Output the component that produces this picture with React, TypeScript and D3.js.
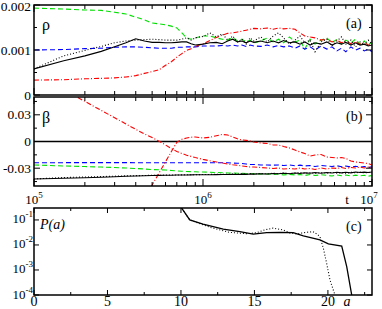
import * as d3 from "d3";

// time grid shared by panels (a) and (b)
const tValues = [
  1e5, 1.5e5, 2e5, 2.5e5, 3e5, 3.5e5, 4e5, 4.5e5, 5e5, 5.5e5,
  6e5, 6.5e5, 7e5, 7.5e5, 8e5, 8.5e5, 9e5, 9.5e5, 1e6, 1.1e6,
  1.2e6, 1.3e6, 1.4e6, 1.5e6, 1.6e6, 1.7e6, 1.8e6, 1.9e6, 2e6, 2.2e6,
  2.4e6, 2.6e6, 2.8e6, 3e6, 3.25e6, 3.5e6, 3.75e6, 4e6, 4.3e6, 4.6e6,
  5e6, 5.4e6, 5.8e6, 6.2e6, 6.6e6, 7e6, 7.5e6, 8e6, 8.5e6, 9e6, 9.5e6, 1e7,
];

// panel (a): rho
const rhoGreen = [
  0.00193, 0.00191, 0.00189, 0.00188, 0.00184, 0.0018, 0.00173, 0.00167, 0.0016, 0.00158,
  0.00156, 0.00153, 0.00149, 0.00138, 0.00127, 0.00124, 0.00127, 0.00129, 0.00131, 0.00131,
  0.00127, 0.00124, 0.00122, 0.00127, 0.0012, 0.00124, 0.00118, 0.00122, 0.00116, 0.0012,
  0.00127, 0.00118, 0.00124, 0.00116, 0.00129, 0.00118, 0.00122, 0.00102, 0.00124, 0.00113,
  0.00122, 0.00127, 0.00116, 0.00124, 0.00113, 0.00122, 0.00116, 0.00124, 0.00113, 0.0012, 0.00111, 0.00118,
];
const rhoBlue = [
  0.001, 0.00101, 0.00103, 0.00104, 0.00106, 0.00107, 0.00107, 0.00106, 0.00105, 0.00104,
  0.00104, 0.00104, 0.00106, 0.00106, 0.00107, 0.00107, 0.00107, 0.00108, 0.00109, 0.00109,
  0.00109, 0.0011, 0.00109, 0.00111, 0.00109, 0.00111, 0.00108, 0.00111, 0.00109, 0.00108,
  0.00111, 0.00107, 0.0011, 0.00107, 0.00109, 0.00104, 0.00109, 0.00102, 0.00107, 0.001,
  0.00109, 0.00102, 0.00107, 0.00098, 0.00104, 0.00096, 0.00107, 0.001, 0.00104, 0.00098, 0.00102, 0.00096,
];
const rhoRed = [
  0.00033, 0.00034, 0.00036, 0.00037, 0.00038, 0.0004, 0.00043, 0.00048, 0.00052, 0.00056,
  0.00066, 0.00074, 0.00084, 0.00092, 0.00099, 0.00103, 0.00108, 0.00111, 0.00114, 0.00121,
  0.00128, 0.00133, 0.00137, 0.00138, 0.0014, 0.00142, 0.00144, 0.00146, 0.00148, 0.00147,
  0.00149, 0.00146, 0.00149, 0.00147, 0.00148, 0.00146, 0.00138, 0.00131, 0.00129, 0.00127,
  0.00122, 0.00124, 0.00118, 0.00122, 0.00116, 0.0012, 0.00114, 0.00118, 0.00113, 0.00117, 0.00111, 0.00113,
];
const rhoDotted = [
  0.00058, 0.00087, 0.00099, 0.00108, 0.00116, 0.0012, 0.00122, 0.00123, 0.00124, 0.00123,
  0.00122, 0.00122, 0.00122, 0.00124, 0.00127, 0.00122, 0.00127, 0.00129, 0.0013, 0.00138,
  0.00129, 0.00136, 0.00122, 0.00131, 0.00118, 0.00124, 0.00113, 0.00127, 0.0012, 0.00129,
  0.00118, 0.00131, 0.00138, 0.00127, 0.00113, 0.00122, 0.00131, 0.00116, 0.00122, 0.00096,
  0.00118, 0.00124, 0.00109, 0.0012, 0.00129, 0.00113, 0.00122, 0.00107, 0.00118, 0.00111, 0.00122, 0.00113,
];
const rhoSolid = [
  0.00058, 0.00076, 0.00087, 0.00097, 0.00107, 0.00116, 0.00125, 0.0012, 0.00117, 0.00117,
  0.00116, 0.00116, 0.00117, 0.00118, 0.00118, 0.00114, 0.00111, 0.00112, 0.00113, 0.00116,
  0.00117, 0.00114, 0.0012, 0.00124, 0.00118, 0.0012, 0.00116, 0.0012, 0.00117, 0.0012,
  0.00116, 0.0012, 0.00116, 0.00121, 0.00116, 0.00118, 0.00113, 0.00118, 0.00111, 0.00116,
  0.00113, 0.00118, 0.00111, 0.00116, 0.00113, 0.00117, 0.00111, 0.00116, 0.00111, 0.00113, 0.00109, 0.00111,
];

// panel (b): beta
const betaRedFall = [
  0.0765, 0.0581, 0.0451, 0.0349, 0.0267, 0.0197, 0.0137, 0.0084, 0.0045, 0.0003,
  -0.0039, -0.0079, -0.0112, -0.0135, -0.0154, -0.0167, -0.018, -0.0191, -0.0201, -0.0217,
  -0.023, -0.0242, -0.0253, -0.0262, -0.0267, -0.0275, -0.0281, -0.0287, -0.0287, -0.0292,
  -0.0298, -0.0303, -0.0298, -0.0309, -0.0303, -0.0309, -0.0298, -0.0309, -0.0303, -0.0315,
  -0.0298, -0.0309, -0.0298, -0.0303, -0.0292, -0.0303, -0.0292, -0.0298, -0.0287, -0.0298, -0.0287, -0.0292,
];
const betaRedRise = [
  null, null, null, null, null, null, -0.08, -0.0635, -0.0489, -0.0353,
  -0.0228, -0.0113, -0.0009, 0.0025, 0.0039, 0.0048, 0.0051, 0.0045, 0.0039, 0.0047,
  0.0065, 0.0079, 0.0073, 0.0051, 0.003, 0.0017, 0.0013, 0.0006, -0.0006, -0.0017,
  -0.0022, -0.0039, -0.0039, -0.0056, -0.0073, -0.0096, -0.0118, -0.0135, -0.0163, -0.0152,
  -0.0146, -0.0174, -0.018, -0.0185, -0.018, -0.0191, -0.0219, -0.023, -0.0236, -0.0242, -0.0247, -0.0264,
];
const betaBlue = [
  -0.0238, -0.0238, -0.0237, -0.0237, -0.0237, -0.0237, -0.0238, -0.0238, -0.0238, -0.0238,
  -0.0238, -0.0238, -0.0238, -0.0238, -0.0238, -0.0238, -0.0238, -0.0238, -0.0238, -0.0238,
  -0.0238, -0.0238, -0.0239, -0.0242, -0.0244, -0.0247, -0.0253, -0.0258, -0.0258, -0.0264,
  -0.0264, -0.0266, -0.0264, -0.027, -0.0264, -0.0273, -0.0266, -0.0275, -0.027, -0.0281,
  -0.027, -0.0275, -0.0281, -0.0273, -0.0284, -0.0275, -0.0287, -0.0278, -0.0289, -0.0281, -0.0292, -0.0284,
];
const betaGreen = [
  -0.0264, -0.0275, -0.0281, -0.0287, -0.0292, -0.0298, -0.0303, -0.0309, -0.0315, -0.0318,
  -0.032, -0.0326, -0.0331, -0.0334, -0.0337, -0.0339, -0.034, -0.0343, -0.0343, -0.0346,
  -0.0348, -0.0351, -0.0354, -0.0354, -0.0356, -0.0357, -0.036, -0.036, -0.0363, -0.0365,
  -0.0365, -0.0371, -0.0365, -0.0376, -0.0369, -0.0376, -0.0371, -0.0382, -0.0371, -0.0382,
  -0.0374, -0.038, -0.0388, -0.0376, -0.0385, -0.0376, -0.0388, -0.0378, -0.0385, -0.038, -0.039, -0.0382,
];
const betaSolid = [
  -0.0421, -0.0413, -0.0407, -0.0401, -0.0396, -0.0391, -0.0388, -0.0385, -0.0382, -0.0381,
  -0.038, -0.0379, -0.0376, -0.0376, -0.0376, -0.0375, -0.0374, -0.0374, -0.0374, -0.0373,
  -0.0372, -0.0371, -0.0371, -0.0369, -0.037, -0.0367, -0.0369, -0.0365, -0.0367, -0.0363,
  -0.0365, -0.036, -0.0363, -0.0357, -0.0362, -0.0354, -0.036, -0.0352, -0.0357, -0.0348,
  -0.0356, -0.0349, -0.0354, -0.0346, -0.0353, -0.0345, -0.0352, -0.0343, -0.0349, -0.0344, -0.0348, -0.0343,
];
const betaDotted = [
  -0.0421, -0.0405, -0.0399, -0.0394, -0.039, -0.0386, -0.0384, -0.0382, -0.038, -0.0379,
  -0.0378, -0.0377, -0.0376, -0.0375, -0.0374, -0.0374, -0.0373, -0.0372, -0.0371, -0.037,
  -0.0369, -0.0367, -0.037, -0.0365, -0.0368, -0.0363, -0.0367, -0.0361, -0.0366, -0.0358,
  -0.0364, -0.0356, -0.0362, -0.0352, -0.036, -0.0355, -0.0349, -0.0358, -0.0351, -0.036,
  -0.035, -0.0356, -0.0347, -0.0355, -0.0349, -0.0357, -0.0346, -0.0352, -0.0344, -0.0353, -0.0347, -0.035,
];

// panel (c): P(a)
const aSolid = [9.95, 10.6, 11.5, 12.88, 14.0, 14.92, 15.83, 16.74, 17.64, 18.33, 19.46, 20.03, 20.94, 21.28, 21.62];
const pSolid = [0.36, 0.1, 0.068, 0.043, 0.034, 0.027, 0.031, 0.032, 0.031, 0.023, 0.016, 0.011, 0.0091, 0.00135, 0.0001];
const aDotted = [9.95, 10.6, 12.0, 13.3, 14.5, 15.15, 15.7, 16.27, 16.95, 17.4, 17.87, 18.5, 18.99, 19.3, 19.46, 19.69, 19.91, 20.14, 20.48];
const pDotted = [0.36, 0.1, 0.05, 0.032, 0.028, 0.031, 0.04, 0.047, 0.04, 0.03, 0.0275, 0.032, 0.034, 0.026, 0.021, 0.0074, 0.0019, 0.0004, 0.0001];

const rhoTicks = [0, 0.001, 0.002];
const rhoTickLabels = ["0", "0.001", "0.002"];
const betaTicks = [-0.03, 0, 0.03];
const betaTickLabels = ["-0.03", "0", "0.03"];
const aTicks = [0, 5, 10, 15, 20];
const pTicks = [1e-1, 1e-2, 1e-3, 1e-4];
const pTickExps = ["-1", "-2", "-3", "-4"];
const tTicks = [1e5, 1e6, 1e7];
const tTickExps = ["5", "6", "7"];

const FONT = "'Liberation Serif', 'DejaVu Serif', serif";
const L = 34, R = 372;

export default function App() {
  const xT = d3.scaleLog().domain([1e5, 1e7]).range([L, R]);
  const yRho = d3.scaleLinear().domain([0, 0.002]).range([95, 5]);
  const yBeta = d3.scaleLinear().domain([-0.05, 0.05]).range([186, 97]);
  const xA = d3.scaleLinear().domain([0, 23]).range([L, R]);
  const yP = d3.scaleLog().domain([1e-4, 0.3]).range([295, 208]);

  const lineT = (ys: (number | null)[], y: d3.ScaleLinear<number, number>) =>
    d3
      .line<number>()
      .defined((_, i) => ys[i] !== null)
      .x((t) => xT(t))
      .y((_, i) => y(ys[i] as number))(tValues) || "";

  const lineA = (as: number[], ps: number[]) =>
    d3
      .line<number>()
      .x((a) => xA(a))
      .y((_, i) => yP(ps[i]))(as) || "";

  const styles = {
    green: { stroke: "#00e000", dash: "5,3" },
    blue: { stroke: "#0000ff", dash: "5,3" },
    red: { stroke: "#ff0000", dash: "5,2,1,2" },
    dotted: { stroke: "#000", dash: "1,2" },
    solid: { stroke: "#000", dash: "" },
  };

  const seriesA = [
    { ys: rhoGreen, s: styles.green },
    { ys: rhoBlue, s: styles.blue },
    { ys: rhoRed, s: styles.red },
    { ys: rhoDotted, s: styles.dotted },
    { ys: rhoSolid, s: styles.solid },
  ];
  const seriesB = [
    { ys: betaGreen, s: styles.green },
    { ys: betaBlue, s: styles.blue },
    { ys: betaRedFall, s: styles.red },
    { ys: betaRedRise, s: styles.red },
    { ys: betaDotted, s: styles.dotted },
    { ys: betaSolid, s: styles.solid },
  ];

  const logTicks = xT.ticks();

  const tTickMarks = (top: number, bottom: number) =>
    logTicks.map((t, i) => {
      const major = Math.abs(Math.log10(t) - Math.round(Math.log10(t))) < 1e-6;
      const len = major ? 7 : 4;
      const x = xT(t);
      return (
        <g key={i}>
          <line x1={x} x2={x} y1={top} y2={top + len} stroke="#000" strokeWidth={1} />
          <line x1={x} x2={x} y1={bottom} y2={bottom - len} stroke="#000" strokeWidth={1} />
        </g>
      );
    });

  const yTickMarks = (vals: number[], scale: (v: number) => number, len: number) =>
    vals.map((v, i) => (
      <g key={i}>
        <line x1={L} x2={L + len} y1={scale(v)} y2={scale(v)} stroke="#000" />
        <line x1={R} x2={R - len} y1={scale(v)} y2={scale(v)} stroke="#000" />
      </g>
    ));

  const aTickVals = d3.range(0, 23, 2.5);

  return (
    <svg width={382} height={309} style={{ position: "absolute", left: 0, top: 0, background: "#fff" }} fontFamily={FONT}>
      <defs>
        <clipPath id="clipA"><rect x={L} y={5} width={R - L} height={90} /></clipPath>
        <clipPath id="clipB"><rect x={L} y={97} width={R - L} height={89} /></clipPath>
        <clipPath id="clipC"><rect x={L} y={208} width={R - L} height={87} /></clipPath>
      </defs>

      {/* panel (a) */}
      <g clipPath="url(#clipA)">
        {seriesA.map((d, i) => (
          <path key={i} d={lineT(d.ys, yRho)} fill="none" stroke={d.s.stroke} strokeWidth={1.1} strokeDasharray={d.s.dash} />
        ))}
      </g>
      {tTickMarks(5, 95)}
      {yTickMarks(rhoTicks, yRho, 6)}
      {yTickMarks([0.0005, 0.0015], yRho, 3)}
      <rect x={L} y={5} width={R - L} height={90} fill="none" stroke="#000" strokeWidth={1.5} />
      {rhoTicks.map((v, i) => (
        <text key={i} x={31} y={Math.max(yRho(v) + 4.5, 11)} textAnchor="end" fontSize={13.5}>{rhoTickLabels[i]}</text>
      ))}
      <text x={42} y={30} fontSize={16}>ρ</text>
      <text x={346} y={28} fontSize={14}>(a)</text>

      {/* panel (b) */}
      <line x1={L} x2={R} y1={yBeta(0)} y2={yBeta(0)} stroke="#000" strokeWidth={1.5} />
      <g clipPath="url(#clipB)">
        {seriesB.map((d, i) => (
          <path key={i} d={lineT(d.ys, yBeta)} fill="none" stroke={d.s.stroke} strokeWidth={1.1} strokeDasharray={d.s.dash} />
        ))}
      </g>
      {tTickMarks(97, 186)}
      {yTickMarks(betaTicks, yBeta, 6)}
      {yTickMarks([-0.045, -0.015, 0.015, 0.045], yBeta, 3)}
      <rect x={L} y={97} width={R - L} height={89} fill="none" stroke="#000" strokeWidth={1.5} />
      {betaTicks.map((v, i) => (
        <text key={i} x={31} y={yBeta(v) + 4.5} textAnchor="end" fontSize={13.5}>{betaTickLabels[i]}</text>
      ))}
      <text x={42} y={123} fontSize={16}>β</text>
      <text x={346} y={121} fontSize={14}>(b)</text>
      {tTicks.map((t, i) => (
        <text key={i} x={i === 2 ? xT(t) - 3 : xT(t)} y={204} textAnchor="middle" fontSize={13}>
          10<tspan dy={-6} fontSize={9}>{tTickExps[i]}</tspan>
        </text>
      ))}
      <text x={347} y={204} textAnchor="middle" fontSize={13}>t</text>

      {/* panel (c) */}
      <g clipPath="url(#clipC)">
        <path d={lineA(aDotted, pDotted)} fill="none" stroke="#000" strokeWidth={1.1} strokeDasharray="1,2" />
        <path d={lineA(aSolid, pSolid)} fill="none" stroke="#000" strokeWidth={1.3} />
      </g>
      {aTickVals.map((v, i) => {
        const len = v % 5 === 0 ? 5 : 3;
        return (
          <g key={i}>
            <line x1={xA(v)} x2={xA(v)} y1={208} y2={208 + len} stroke="#000" />
            <line x1={xA(v)} x2={xA(v)} y1={295} y2={295 - len} stroke="#000" />
          </g>
        );
      })}
      {yTickMarks(pTicks, yP, 5)}
      <rect x={L} y={208} width={R - L} height={87} fill="none" stroke="#000" strokeWidth={1.5} />
      {pTicks.map((v, i) => (
        <text key={i} x={33} y={yP(v) + 3.5} textAnchor="end" fontSize={13}>
          10<tspan dy={-6} fontSize={9}>{pTickExps[i]}</tspan>
        </text>
      ))}
      {aTicks.map((v, i) => (
        <text key={i} x={xA(v)} y={306} textAnchor="middle" fontSize={14}>{v}</text>
      ))}
      <text x={347} y={306} textAnchor="middle" fontSize={14} fontStyle="italic">a</text>
      <text x={40} y={229} fontSize={14} fontStyle="italic">P(a)</text>
      <text x={346} y={231} fontSize={14}>(c)</text>
    </svg>
  );
}
